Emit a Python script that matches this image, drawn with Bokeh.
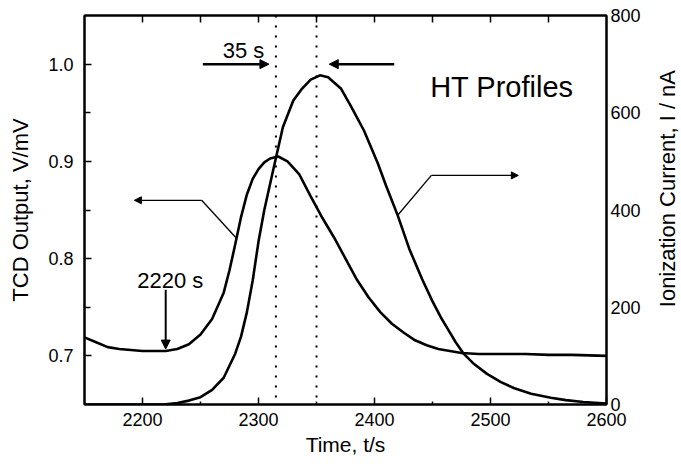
import math
from bokeh.plotting import figure
from bokeh.layouts import row
from bokeh.core.properties import value
from bokeh.models import (Range1d, LinearAxis, FixedTicker, Span, Arrow,
                          NormalHead, Label, PrintfTickFormatter)
from bokeh.embed import file_html
from bokeh.resources import INLINE

# ---- data ----
tcd_time = [2150, 2160, 2170, 2180, 2190, 2200, 2210, 2220, 2230, 2240, 2250,
            2260, 2270, 2275, 2280, 2285, 2290, 2295, 2300, 2305, 2310, 2317,
            2325, 2335, 2345, 2355, 2365, 2375, 2385, 2395, 2405, 2415, 2425,
            2435, 2445, 2455, 2465, 2475, 2490, 2510, 2530, 2550, 2570, 2600]
tcd_val = [0.719, 0.714, 0.709, 0.707, 0.706, 0.705, 0.705, 0.705, 0.707,
           0.712, 0.722, 0.738, 0.765, 0.788, 0.815, 0.843, 0.866, 0.882,
           0.892, 0.899, 0.903, 0.905, 0.900, 0.887, 0.864, 0.842, 0.822,
           0.800, 0.778, 0.760, 0.745, 0.733, 0.724, 0.716, 0.711, 0.707,
           0.705, 0.703, 0.702, 0.702, 0.702, 0.701, 0.701, 0.700]

ion_time = [2150, 2200, 2220, 2230, 2240, 2250, 2260, 2270, 2280, 2285, 2290,
            2295, 2300, 2305, 2312, 2321, 2330, 2337, 2345, 2353, 2360, 2371,
            2380, 2391, 2403, 2410, 2420, 2430, 2441, 2450, 2457, 2463, 2470,
            2477, 2485, 2497, 2509, 2520, 2535, 2552, 2565, 2580, 2600]
ion_val = [0, 0, 0.5, 3, 8, 15, 30, 55, 105, 140, 190, 255, 335, 400, 475,
           570, 625, 648, 668, 677, 673, 650, 612, 563, 495, 450, 389, 320,
           258, 212, 180, 156, 128, 104, 85, 63, 46, 34, 22, 14, 9, 5, 2]

x_ticks = [2200, 2300, 2400, 2500, 2600]
x_minor = [2250, 2350, 2450, 2550]
top_ticks = [2200, 2250, 2300, 2350, 2400, 2450, 2500, 2550]
left_ticks = [0.7, 0.8, 0.9, 1.0]
left_minor = [0.75, 0.85, 0.95]
right_ticks = [0, 200, 400, 600, 800]
peak_times = [2315, 2350]
right_title = ["Ionization Current, I / nA"]

FONT = "Liberation Sans"

p = figure(width=650, height=464, output_backend="svg", toolbar_location=None,
           x_range=Range1d(2150, 2600), y_range=Range1d(0.65, 1.05),
           min_border_left=84, min_border_right=44, min_border_top=15,
           min_border_bottom=60)
p.extra_y_ranges = {"ion": Range1d(0, 800)}
p.xgrid.visible = False
p.ygrid.visible = False
p.outline_line_color = "black"
p.outline_line_width = 2
p.background_fill_color = "white"
p.border_fill_color = "white"

def style_axis(ax):
    ax.axis_line_width = 2
    ax.axis_line_color = "black"
    ax.major_tick_line_color = "black"
    ax.minor_tick_line_color = "black"
    ax.major_tick_line_width = 1.5
    ax.minor_tick_line_width = 1.5
    ax.major_label_text_font = FONT
    ax.major_label_text_font_size = "18px"
    ax.major_label_text_color = "black"
    ax.axis_label_text_font = FONT
    ax.axis_label_text_font_style = "normal"
    ax.axis_label_text_color = "black"

xa = p.xaxis[0]
xa.ticker = FixedTicker(ticks=x_ticks, minor_ticks=x_minor)
style_axis(xa)
xa.major_tick_in = 7
xa.major_tick_out = 0
xa.minor_tick_in = 3
xa.minor_tick_out = 0
xa.major_label_standoff = 8
xa.axis_label = "Time, t/s"
xa.axis_label_text_font_size = "21px"
xa.axis_label_standoff = 4

ya = p.yaxis[0]
ya.ticker = FixedTicker(ticks=left_ticks, minor_ticks=left_minor)
ya.formatter = PrintfTickFormatter(format="%.1f")
style_axis(ya)
ya.major_tick_in = 7
ya.major_tick_out = 0
ya.minor_tick_in = 6
ya.minor_tick_out = 0
ya.major_label_standoff = 11
ya.axis_label = "TCD Output, V/mV"
ya.axis_label_text_font_size = "22px"
ya.axis_label_standoff = 12

top = LinearAxis(ticker=FixedTicker(ticks=top_ticks))
style_axis(top)
top.major_label_overrides = {t: "" for t in top_ticks}
top.major_label_standoff = 0
top.major_tick_in = 7
top.major_tick_out = 0
top.minor_tick_in = 0
top.minor_tick_out = 0
p.add_layout(top, "above")

# right axis: tick labels (title drawn in a narrow side panel)
ra = LinearAxis(y_range_name="ion", ticker=FixedTicker(ticks=right_ticks))
style_axis(ra)
ra.major_tick_in = 0
ra.major_tick_out = 0
ra.minor_tick_in = 0
ra.minor_tick_out = 0
ra.major_label_standoff = 4
p.add_layout(ra, "right")

# curves
p.line(tcd_time, tcd_val, line_width=2.6, line_color="black")
p.line(ion_time, ion_val, y_range_name="ion", line_width=2.6, line_color="black")

# dotted peak markers
for t in peak_times:
    p.add_layout(Span(location=t, dimension="height", line_color="black",
                      line_width=2, line_dash="2 8"))

def head():
    return NormalHead(size=9, fill_color="black", line_color="black", line_width=1)

# 35 s arrows
p.add_layout(Arrow(end=head(), x_start=2252, y_start=1.0, x_end=2309, y_end=1.0,
                   line_width=2.5, line_color="black"))
p.add_layout(Arrow(end=head(), x_start=2417, y_start=1.0, x_end=2361, y_end=1.0,
                   line_width=2.5, line_color="black"))
# 2220 s arrow
p.add_layout(Arrow(end=head(), x_start=2220, y_start=0.768, x_end=2220, y_end=0.707,
                   line_width=2, line_color="black"))
# TCD callout (left axis)
p.add_layout(Arrow(end=None, x_start=2281, y_start=0.821, x_end=2251, y_end=0.860,
                   line_width=1.3, line_color="black"))
p.add_layout(Arrow(end=NormalHead(size=7, fill_color="black", line_color="black"),
                   x_start=2251, y_start=0.860, x_end=2193, y_end=0.860,
                   line_width=1.3, line_color="black"))
# Ion callout (right axis)
p.add_layout(Arrow(end=None, x_start=2420, y_start=0.8446, x_end=2449, y_end=0.8856,
                   line_width=1.3, line_color="black"))
p.add_layout(Arrow(end=NormalHead(size=7, fill_color="black", line_color="black"),
                   x_start=2449, y_start=0.8856, x_end=2524, y_end=0.8856,
                   line_width=1.3, line_color="black"))

# labels
p.add_layout(Label(x=2305, y=1.0135, text="35 s", text_align="right",
                   text_baseline="alphabetic", text_font=FONT,
                   text_font_size="22px", text_color="black"))
p.add_layout(Label(x=2224, y=0.778, text="2220 s", text_align="center",
                   text_baseline="alphabetic", text_font=FONT,
                   text_font_size="22px", text_color="black"))
p.add_layout(Label(x=2448, y=0.976, text="HT Profiles", text_align="left",
                   text_baseline="alphabetic", text_font=FONT,
                   text_font_size="29px", text_color="black"))

# narrow side panel holding the right-axis title, reading bottom-to-top
p2 = figure(width=31, height=464, output_backend="svg", toolbar_location=None,
            x_range=Range1d(0, 1), y_range=Range1d(0, 1),
            x_axis_location=None, y_axis_location=None,
            min_border_left=0, min_border_right=0, min_border_top=0,
            min_border_bottom=0)
p2.xgrid.visible = False
p2.ygrid.visible = False
p2.outline_line_color = None
p2.background_fill_color = "white"
p2.border_fill_color = "white"
p2.text(x=[0.55], y=[0.555], text=right_title, angle=math.pi / 2,
        text_align="center", text_baseline="middle",
        text_font=value(FONT), text_font_size="22px", text_color="black")

open("out.html", "w").write(file_html(row(p, p2), INLINE))
